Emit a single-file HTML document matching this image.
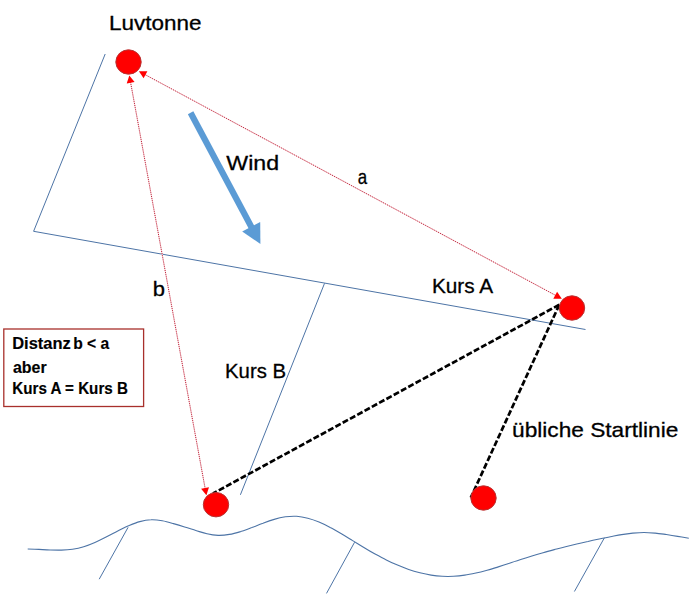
<!DOCTYPE html>
<html><head><meta charset="utf-8"><style>
html,body{margin:0;padding:0;background:#fff;width:694px;height:594px;overflow:hidden}
svg{display:block}
</style></head><body>
<svg width="694" height="594" viewBox="0 0 694 594"><polyline points="105.2,54 33.6,231.3 585.5,329.5" fill="none" stroke="#4d74a6" stroke-width="1"/>
<line x1="324.5" y1="283.4" x2="240.4" y2="494.8" stroke="#4d74a6" stroke-width="1"/>
<path d="M27.7 549.0 C29.6 549.1 35.2 549.3 38.9 549.4 C42.6 549.6 46.4 549.9 50.1 550.0 C53.8 550.1 57.6 550.2 61.3 550.1 C65.1 550.0 68.8 549.8 72.5 549.2 C76.3 548.6 80.0 547.8 83.7 546.7 C87.5 545.5 91.2 544.0 94.9 542.4 C98.7 540.8 102.4 538.9 106.1 537.0 C109.9 535.1 113.6 533.1 117.3 531.2 C121.1 529.4 124.8 527.4 128.5 525.8 C132.3 524.2 136.0 522.6 139.8 521.6 C143.5 520.6 147.2 519.9 151.0 519.8 C154.7 519.6 158.4 520.1 162.2 520.8 C165.9 521.4 169.6 522.5 173.4 523.6 C177.1 524.6 180.8 525.7 184.6 526.9 C188.3 528.0 192.0 529.3 195.8 530.5 C199.5 531.6 203.2 533.0 207.0 533.8 C210.7 534.7 214.5 535.3 218.2 535.4 C221.9 535.5 225.7 535.1 229.4 534.4 C233.1 533.8 236.9 532.7 240.6 531.6 C244.3 530.4 248.1 528.9 251.8 527.6 C255.5 526.2 259.3 524.6 263.0 523.3 C266.7 521.9 270.5 520.5 274.2 519.4 C277.9 518.3 281.7 517.4 285.4 516.8 C289.2 516.3 292.9 516.1 296.6 516.3 C300.4 516.6 304.1 517.3 307.8 518.2 C311.6 519.2 315.3 520.5 319.0 522.0 C322.8 523.6 326.5 525.4 330.2 527.4 C334.0 529.3 337.7 531.5 341.4 533.7 C345.2 535.9 348.9 538.3 352.6 540.6 C356.4 542.9 360.1 545.3 363.9 547.5 C367.6 549.8 371.3 552.0 375.1 554.1 C378.8 556.1 382.5 558.1 386.3 559.9 C390.0 561.8 393.7 563.5 397.5 565.1 C401.2 566.7 404.9 568.1 408.7 569.4 C412.4 570.7 416.1 571.8 419.9 572.8 C423.6 573.7 427.3 574.5 431.1 575.1 C434.8 575.7 438.6 576.1 442.3 576.3 C446.0 576.5 449.8 576.5 453.5 576.3 C457.2 576.1 461.0 575.7 464.7 575.1 C468.4 574.6 472.2 573.8 475.9 573.0 C479.6 572.2 483.4 571.2 487.1 570.2 C490.8 569.2 494.6 568.0 498.3 566.9 C502.0 565.7 505.8 564.5 509.5 563.3 C513.3 562.0 517.0 560.8 520.7 559.6 C524.5 558.3 528.2 557.1 531.9 556.0 C535.7 554.8 539.4 553.7 543.1 552.7 C546.9 551.6 550.6 550.6 554.3 549.6 C558.1 548.6 561.8 547.6 565.5 546.7 C569.3 545.8 573.0 544.9 576.7 544.0 C580.5 543.2 584.2 542.3 588.0 541.5 C591.7 540.6 595.4 539.8 599.2 539.0 C602.9 538.2 606.6 537.4 610.4 536.7 C614.1 536.0 617.8 535.2 621.6 534.6 C625.3 534.0 629.0 533.5 632.8 533.1 C636.5 532.8 640.2 532.5 644.0 532.5 C647.7 532.5 651.4 532.8 655.2 533.1 C658.9 533.4 662.7 534.0 666.4 534.5 C670.1 535.1 673.9 535.8 677.6 536.4 C681.3 537.0 686.9 537.9 688.8 538.2" fill="none" stroke="#4d74a6" stroke-width="1.1"/>
<line x1="128.1" y1="527.3" x2="99.2" y2="579.2" stroke="#4d74a6" stroke-width="1"/>
<line x1="354.6" y1="542.2" x2="326.5" y2="593.4" stroke="#4d74a6" stroke-width="1"/>
<line x1="604.4" y1="537.8" x2="574.4" y2="591.5" stroke="#4d74a6" stroke-width="1"/>
<line x1="144.62" y1="74.38" x2="556.08" y2="295.62" stroke="#fbd8dc" stroke-width="1.1"/>
<line x1="144.62" y1="74.38" x2="556.08" y2="295.62" stroke="#b81c34" stroke-width="1" stroke-dasharray="1 1.15"/>
<polygon points="138.90,71.30 147.40,71.33 143.61,78.37" fill="#f00"/>
<polygon points="561.80,298.70 553.30,298.67 557.09,291.63" fill="#f00"/>
<line x1="130.47" y1="81.79" x2="205.23" y2="488.91" stroke="#fbd8dc" stroke-width="1.1"/>
<line x1="130.47" y1="81.79" x2="205.23" y2="488.91" stroke="#b81c34" stroke-width="1" stroke-dasharray="1 1.15"/>
<polygon points="129.30,75.40 134.59,82.05 126.72,83.50" fill="#f00"/>
<polygon points="206.40,495.30 201.11,488.65 208.98,487.20" fill="#f00"/>
<line x1="559.3" y1="304.7" x2="213" y2="493.5" stroke="#000" stroke-width="2.7" stroke-dasharray="6 2.3"/>
<line x1="559.3" y1="304.7" x2="470.8" y2="497.6" stroke="#000" stroke-width="2.7" stroke-dasharray="6 2.3"/>
<line x1="190.60" y1="112.70" x2="251.67" y2="227.58" stroke="#5b9bd5" stroke-width="6.2"/>
<polygon points="260.40,244.00 242.19,231.48 260.21,221.91" fill="#5b9bd5"/>
<ellipse cx="128.5" cy="62.0" rx="12.7" ry="12.2" fill="#ff0000" stroke="#b83232" stroke-width="1"/>
<ellipse cx="572.0" cy="308.0" rx="12.7" ry="12.2" fill="#ff0000" stroke="#b83232" stroke-width="1"/>
<ellipse cx="216.0" cy="504.7" rx="12.7" ry="12.2" fill="#ff0000" stroke="#b83232" stroke-width="1"/>
<ellipse cx="483.5" cy="498.0" rx="12.7" ry="12.2" fill="#ff0000" stroke="#b83232" stroke-width="1"/>
<rect x="3.8" y="329" width="139.8" height="77.5" fill="#fff" stroke="#a8302c" stroke-width="1.3"/>
<text x="108.98" y="30.04" font-size="21.00" textLength="92.48" lengthAdjust="spacingAndGlyphs" fill="#000" stroke="#000" stroke-width="0.30" style="font-family:'Liberation Sans',sans-serif">Luvtonne</text>
<text x="226.34" y="170.42" font-size="21.00" textLength="52.78" lengthAdjust="spacingAndGlyphs" fill="#000" stroke="#000" stroke-width="0.30" style="font-family:'Liberation Sans',sans-serif">Wind</text>
<text x="357.84" y="184.42" font-size="21.00" textLength="9.38" lengthAdjust="spacingAndGlyphs" fill="#000" stroke="#000" stroke-width="0.30" style="font-family:'Liberation Sans',sans-serif">a</text>
<text x="152.68" y="296.38" font-size="21.00" textLength="12.24" lengthAdjust="spacingAndGlyphs" fill="#000" stroke="#000" stroke-width="0.30" style="font-family:'Liberation Sans',sans-serif">b</text>
<text x="431.94" y="293.38" font-size="21.00" textLength="61.24" lengthAdjust="spacingAndGlyphs" fill="#000" stroke="#000" stroke-width="0.30" style="font-family:'Liberation Sans',sans-serif">Kurs A</text>
<text x="225.06" y="378.00" font-size="21.00" textLength="60.94" lengthAdjust="spacingAndGlyphs" fill="#000" stroke="#000" stroke-width="0.30" style="font-family:'Liberation Sans',sans-serif">Kurs B</text>
<text x="512.10" y="436.50" font-size="21.00" textLength="166.24" lengthAdjust="spacingAndGlyphs" fill="#000" stroke="#000" stroke-width="0.30" style="font-family:'Liberation Sans',sans-serif">übliche Startlinie</text>
<text x="12.22" y="349.38" font-size="15.60" font-weight="bold" textLength="58.58" lengthAdjust="spacingAndGlyphs" fill="#000" stroke="#000" stroke-width="0.15" style="font-family:'Liberation Sans',sans-serif">Distanz</text>
<text x="73.18" y="349.38" font-size="15.60" font-weight="bold" textLength="36.08" lengthAdjust="spacingAndGlyphs" fill="#000" stroke="#000" stroke-width="0.15" style="font-family:'Liberation Sans',sans-serif">b &lt; a</text>
<text x="13.00" y="372.54" font-size="15.60" font-weight="bold" textLength="33.68" lengthAdjust="spacingAndGlyphs" fill="#000" stroke="#000" stroke-width="0.15" style="font-family:'Liberation Sans',sans-serif">aber</text>
<text x="12.30" y="394.38" font-size="15.60" font-weight="bold" textLength="115.58" lengthAdjust="spacingAndGlyphs" fill="#000" stroke="#000" stroke-width="0.15" style="font-family:'Liberation Sans',sans-serif">Kurs A = Kurs B</text></svg>
</body></html>
